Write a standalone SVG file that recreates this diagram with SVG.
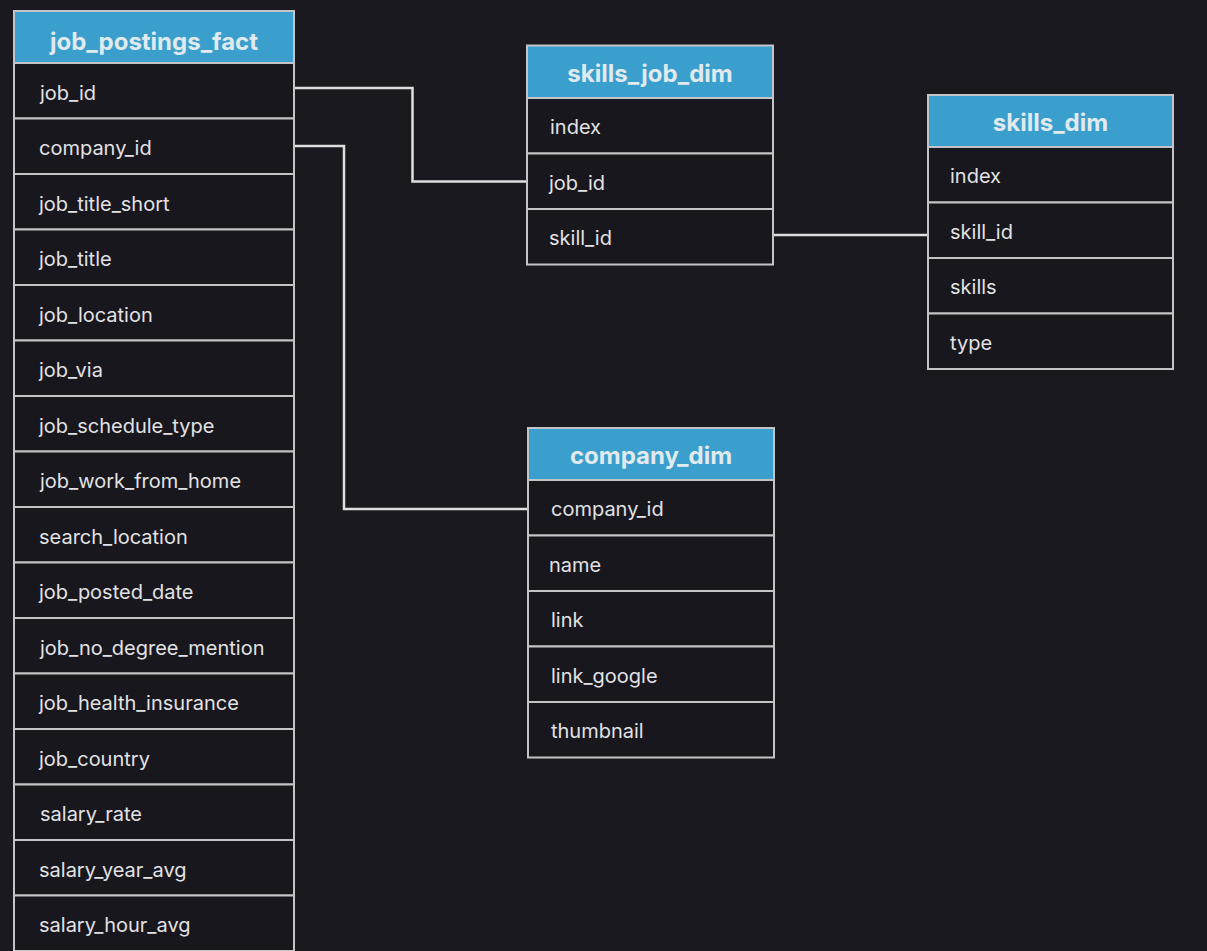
<svg xmlns="http://www.w3.org/2000/svg" width="1207" height="951" viewBox="0 0 1207 951">
<style>
.bg{fill:#1a1920}
.hdr{fill:#3a9fcd;stroke:#c4c4c8;stroke-width:2}
.row{fill:#18171d;stroke:#c4c4c8;stroke-width:2}
.ht{font-family:Inter,"Liberation Sans",sans-serif;font-weight:700;font-size:24px;fill:#e0eaef;text-anchor:middle}
.rt{font-family:Inter,"Liberation Sans",sans-serif;font-size:20px;fill:#e2e2e4}
.conn{fill:none;stroke:#dedede;stroke-width:2.5}
</style>
<rect class="bg" x="0" y="0" width="1207" height="951"/>
<g id="connectors">
<polyline class="conn" points="294,88 412.5,88 412.5,181.5 527,181.5"/>
<polyline class="conn" points="294,146 344,146 344,509 528,509"/>
<polyline class="conn" points="773,235 928,235"/>
</g>
<g id="job_postings_fact">
<rect class="hdr" x="14" y="11" width="280" height="52"/>
<text class="ht" x="154" y="50">job_postings_fact</text>
<rect class="row" x="14" y="63" width="280" height="55.5"/>
<rect class="row" x="14" y="118.5" width="280" height="55.5"/>
<rect class="row" x="14" y="174" width="280" height="55.5"/>
<rect class="row" x="14" y="229.5" width="280" height="55.5"/>
<rect class="row" x="14" y="285" width="280" height="55.5"/>
<rect class="row" x="14" y="340.5" width="280" height="55.5"/>
<rect class="row" x="14" y="396" width="280" height="55.5"/>
<rect class="row" x="14" y="451.5" width="280" height="55.5"/>
<rect class="row" x="14" y="507" width="280" height="55.5"/>
<rect class="row" x="14" y="562.5" width="280" height="55.5"/>
<rect class="row" x="14" y="618" width="280" height="55.5"/>
<rect class="row" x="14" y="673.5" width="280" height="55.5"/>
<rect class="row" x="14" y="729" width="280" height="55.5"/>
<rect class="row" x="14" y="784.5" width="280" height="55.5"/>
<rect class="row" x="14" y="840" width="280" height="55.5"/>
<rect class="row" x="14" y="895.5" width="280" height="55.5"/>
<text class="rt" x="40" y="99.5">job_id</text>
<text class="rt" x="39" y="155">company_id</text>
<text class="rt" x="39" y="210.5">job_title_short</text>
<text class="rt" x="39" y="266">job_title</text>
<text class="rt" x="39" y="321.5">job_location</text>
<text class="rt" x="39" y="377">job_via</text>
<text class="rt" x="39" y="432.5">job_schedule_type</text>
<text class="rt" x="40" y="488">job_work_from_home</text>
<text class="rt" x="39" y="543.5">search_location</text>
<text class="rt" x="39" y="599">job_posted_date</text>
<text class="rt" x="40" y="654.5">job_no_degree_mention</text>
<text class="rt" x="39" y="710">job_health_insurance</text>
<text class="rt" x="39" y="765.5">job_country</text>
<text class="rt" x="40" y="821">salary_rate</text>
<text class="rt" x="39" y="876.5">salary_year_avg</text>
<text class="rt" x="39" y="932">salary_hour_avg</text>
</g>
<g id="skills_job_dim">
<rect class="hdr" x="527" y="45.5" width="246" height="52.5"/>
<text class="ht" x="650" y="82">skills_job_dim</text>
<rect class="row" x="527" y="98" width="246" height="55.5"/>
<rect class="row" x="527" y="153.5" width="246" height="55.5"/>
<rect class="row" x="527" y="209" width="246" height="55.5"/>
<text class="rt" x="550" y="134">index</text>
<text class="rt" x="549" y="189.5">job_id</text>
<text class="rt" x="549" y="245">skill_id</text>
</g>
<g id="skills_dim">
<rect class="hdr" x="928" y="95" width="245" height="52"/>
<text class="ht" x="1050.5" y="131">skills_dim</text>
<rect class="row" x="928" y="147" width="245" height="55.5"/>
<rect class="row" x="928" y="202.5" width="245" height="55.5"/>
<rect class="row" x="928" y="258" width="245" height="55.5"/>
<rect class="row" x="928" y="313.5" width="245" height="55.5"/>
<text class="rt" x="950" y="183">index</text>
<text class="rt" x="950" y="238.5">skill_id</text>
<text class="rt" x="950" y="294">skills</text>
<text class="rt" x="950" y="349.5">type</text>
</g>
<g id="company_dim">
<rect class="hdr" x="528" y="428" width="246" height="52"/>
<text class="ht" x="651" y="464">company_dim</text>
<rect class="row" x="528" y="480" width="246" height="55.5"/>
<rect class="row" x="528" y="535.5" width="246" height="55.5"/>
<rect class="row" x="528" y="591" width="246" height="55.5"/>
<rect class="row" x="528" y="646.5" width="246" height="55.5"/>
<rect class="row" x="528" y="702" width="246" height="55.5"/>
<text class="rt" x="551" y="516">company_id</text>
<text class="rt" x="549" y="571.5">name</text>
<text class="rt" x="551" y="627">link</text>
<text class="rt" x="551" y="682.5">link_google</text>
<text class="rt" x="551" y="738">thumbnail</text>
</g>
</svg>
